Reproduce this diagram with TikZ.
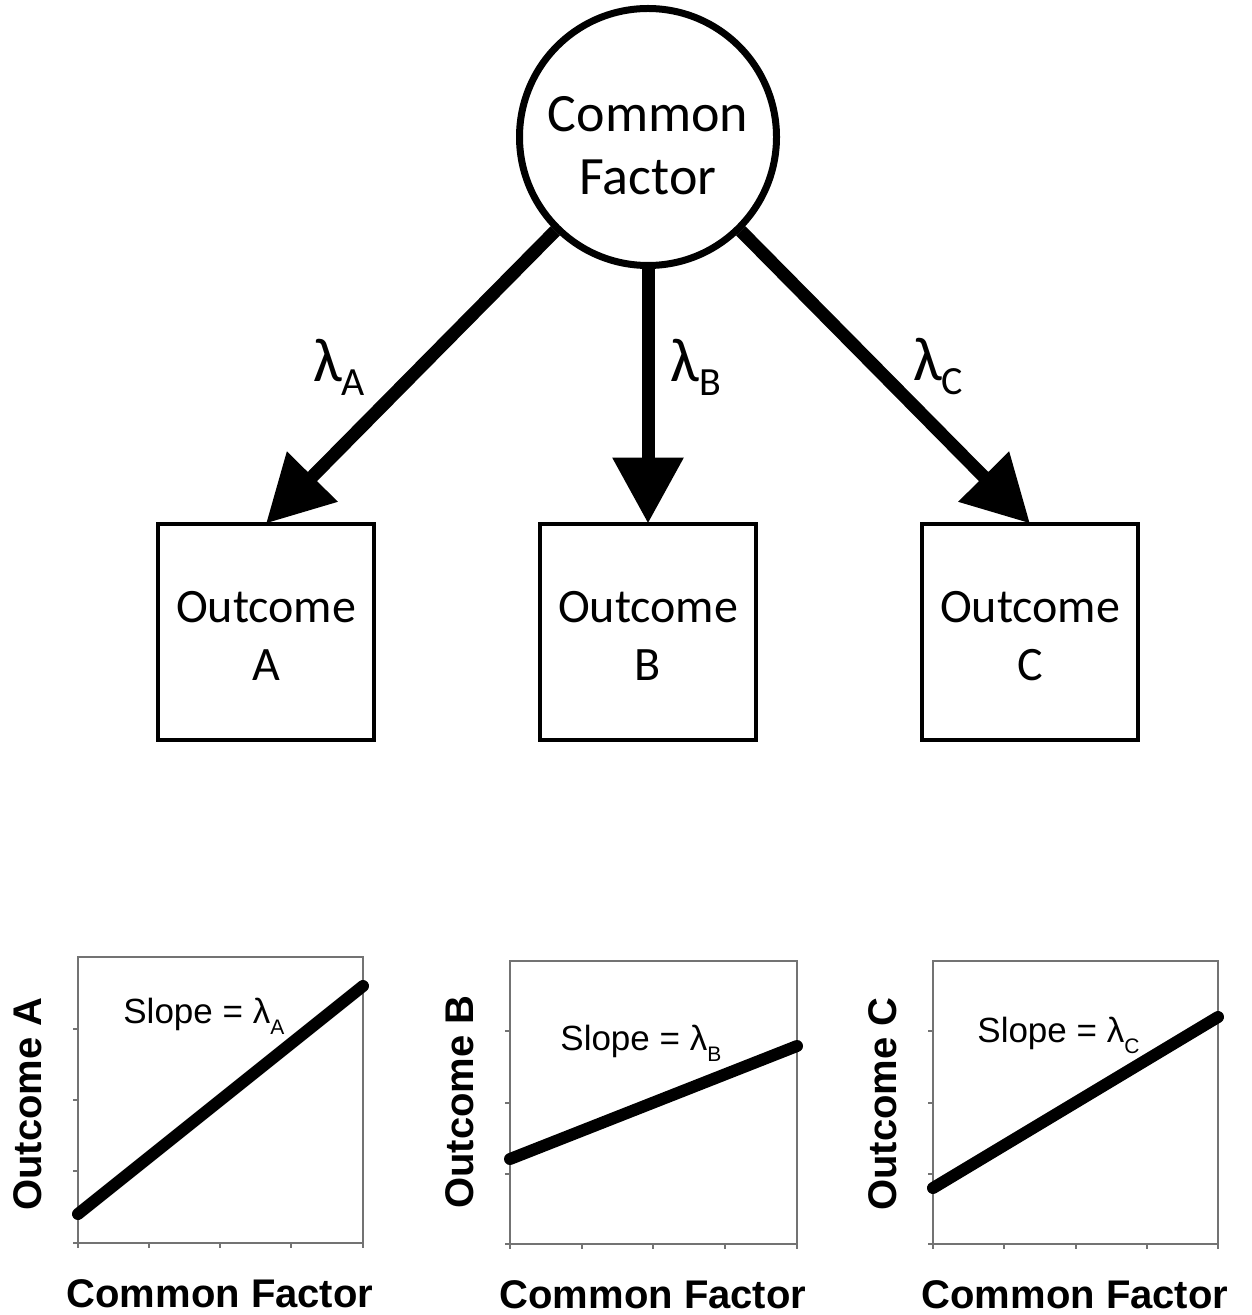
\documentclass[tikz,border=0pt]{standalone}
\usepackage{fontspec}
\setmainfont{Carlito}
\newfontfamily\arialf{Liberation Sans}
\usetikzlibrary{arrows.meta}
\begin{document}
\begin{tikzpicture}[x=0.5pt,y=-0.5pt,
  factor/.style={circle,draw,line width=3.5pt,minimum size=128.5pt,inner sep=0pt,align=center,
    font=\fontsize{27}{31.5}\selectfont},
  outbox/.style={rectangle,draw,line width=2pt,minimum width=108pt,minimum height=108pt,inner sep=0pt,
    outer sep=0pt,align=center,font=\fontsize{24}{29}\selectfont},
  arr/.style={line width=6.5pt,-{Triangle[length=33pt,width=34pt]}},
  lam/.style={font=\fontsize{31}{31}\selectfont,inner sep=0pt},
  axisln/.style={line width=0.7pt,black!55},
  fitline/.style={line width=6pt,line cap=round},
  slopelbl/.style={font=\arialf\fontsize{17.5}{17.5}\selectfont,inner sep=0pt,anchor=base west},
  ylbl/.style={font=\arialf\bfseries\fontsize{20}{20}\selectfont,rotate=90,inner sep=0pt},
  xlbl/.style={font=\arialf\bfseries\fontsize{20}{20}\selectfont,inner sep=0pt}
]
\useasboundingbox (0,0) rectangle (1251,1315);

% top diagram
\node[factor] (cf) at (648,137) {\rule{0pt}{26.5pt}Common\\Factor};
\node[outbox] (oA) at (266,631.5) {\rule{0pt}{20pt}Outcome\\A};
\node[outbox] (oB) at (648,631.5) {\rule{0pt}{20pt}Outcome\\B};
\node[outbox] (oC) at (1030,631.5) {\rule{0pt}{20pt}Outcome\\C};

\draw[arr] (cf) -- (oA.north);
\draw[arr] (cf) -- (oB.north);
\draw[arr] (cf) -- (oC.north);

\node[lam] (lA) at (339,367) {λ\raisebox{-7pt}{\fontsize{20}{20}\selectfont A}};
\node[lam] (lB) at (696,367) {λ\raisebox{-7pt}{\fontsize{20}{20}\selectfont B}};
\node[lam] (lC) at (938,367) {λ\raisebox{-7pt}{\fontsize{20}{20}\selectfont C}};

% plot A
\draw[axisln] (78,957) rectangle (363,1243);
\foreach \yy in {1029,1100,1171,1243} \draw[axisln] (73,\yy) -- (78,\yy);
\foreach \xx in {78,149,220,291,363} \draw[axisln] (\xx,1243) -- (\xx,1248);
\draw[fitline] (78,1214) -- (363,986);
\node[slopelbl] (sA) at (123,1023) {Slope = λ\raisebox{-5.5pt}{\fontsize{10.5}{10.5}\selectfont A}};
\node[ylbl] (yA) at (28,1104) {Outcome A};
\node[xlbl] (xA) at (220,1294) {Common Factor};

% plot B
\draw[axisln] (510,961) rectangle (797,1244);
\foreach \yy in {1031,1103,1174,1244} \draw[axisln] (505,\yy) -- (510,\yy);
\foreach \xx in {510,582,653,725,797} \draw[axisln] (\xx,1244) -- (\xx,1249);
\draw[fitline] (510,1159) -- (797,1046);
\node[slopelbl] (sB) at (560,1050) {Slope = λ\raisebox{-5.5pt}{\fontsize{10.5}{10.5}\selectfont B}};
\node[ylbl] (yB) at (460,1102) {Outcome B};
\node[xlbl] (xB) at (653,1295) {Common Factor};

% plot C
\draw[axisln] (933,961) rectangle (1218,1244);
\foreach \yy in {1031,1103,1174,1244} \draw[axisln] (928,\yy) -- (933,\yy);
\foreach \xx in {933,1004,1076,1147,1218} \draw[axisln] (\xx,1244) -- (\xx,1249);
\draw[fitline] (933,1188) -- (1218,1017);
\node[slopelbl] (sC) at (977,1042) {Slope = λ\raisebox{-5.5pt}{\fontsize{10.5}{10.5}\selectfont C}};
\node[ylbl] (yC) at (883,1104) {Outcome C};
\node[xlbl] (xC) at (1075,1295) {Common Factor};
\end{tikzpicture}
\end{document}
